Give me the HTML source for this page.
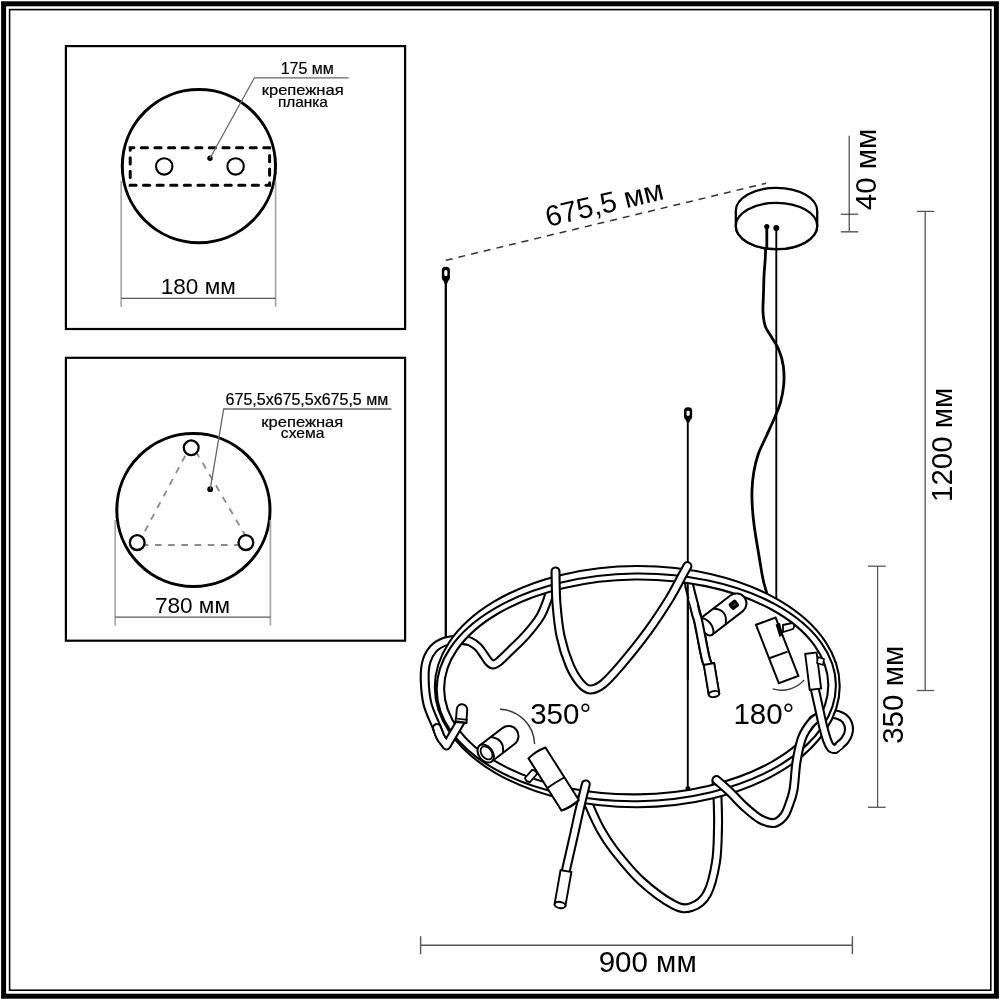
<!DOCTYPE html>
<html><head><meta charset="utf-8">
<style>
html,body{margin:0;padding:0;background:#fff;width:1000px;height:1000px;overflow:hidden}
svg{display:block}
text{font-family:"Liberation Sans",sans-serif;fill:#000}
</style></head><body>
<svg style="will-change:transform" width="1000" height="1000" viewBox="0 0 1000 1000">
<rect x="0" y="0" width="1000" height="1000" fill="#fff"/>
<!-- frame -->
<rect x="3.6" y="3.8" width="992.8" height="992.4" fill="none" stroke="#000" stroke-width="5"/>
<rect x="9.6" y="9.6" width="981.2" height="980.6" fill="none" stroke="#000" stroke-width="1.6"/>
<!-- box 1 -->
<rect x="65.9" y="46.1" width="339.2" height="282.9" fill="none" stroke="#000" stroke-width="2.2"/>
<circle cx="198.9" cy="166.1" r="76.6" fill="none" stroke="#000" stroke-width="3"/>
<rect x="130.2" y="147.8" width="139.4" height="37.4" fill="none" stroke="#000" stroke-width="3" stroke-linecap="round" stroke-dasharray="6.2 7.4" stroke-dashoffset="2.5"/>
<circle cx="164.2" cy="166.4" r="8.2" fill="none" stroke="#000" stroke-width="2.1"/>
<circle cx="235.6" cy="166.4" r="8.2" fill="none" stroke="#000" stroke-width="2.1"/>
<circle cx="210" cy="158.3" r="2.7" fill="#000"/>
<polyline points="210,158.3 254.4,77.8 348.6,77.8" fill="none" stroke="#666" stroke-width="1.3"/>
<text x="307.3" y="74" font-size="16" stroke="#000" stroke-width="0.2" text-anchor="middle">175 мм</text>
<text x="302.7" y="94.6" font-size="14.5" stroke="#000" stroke-width="0.2" text-anchor="middle" textLength="82" lengthAdjust="spacingAndGlyphs">крепежная</text>
<text x="302.9" y="107.2" font-size="14.5" stroke="#000" stroke-width="0.2" text-anchor="middle" textLength="50" lengthAdjust="spacingAndGlyphs">планка</text>
<line x1="121.2" y1="181" x2="121.2" y2="306.8" stroke="#a8a8a8" stroke-width="1.7"/>
<line x1="275.6" y1="181" x2="275.6" y2="306.8" stroke="#a8a8a8" stroke-width="1.7"/>
<line x1="121.2" y1="298.4" x2="275.6" y2="298.4" stroke="#5a5a5a" stroke-width="1.3"/>
<text x="198.2" y="294.2" font-size="22.6" text-anchor="middle">180 мм</text>
<!-- box 2 -->
<rect x="65.9" y="357.8" width="339.2" height="282.9" fill="none" stroke="#000" stroke-width="2.2"/>
<circle cx="193.4" cy="510" r="76.6" fill="none" stroke="#000" stroke-width="3"/>
<path d="M191.5,444 L137.5,545 L251,545 Z" fill="none" stroke="#8a8a8a" stroke-width="1.8" stroke-dasharray="6.6 6.6"/>
<circle cx="191.2" cy="447.8" r="7.4" fill="#fff" stroke="#000" stroke-width="2.3"/>
<circle cx="137.2" cy="542.6" r="7.4" fill="#fff" stroke="#000" stroke-width="2.3"/>
<circle cx="245.9" cy="542.6" r="7.4" fill="#fff" stroke="#000" stroke-width="2.3"/>
<circle cx="210.2" cy="489.2" r="2.9" fill="#000"/>
<polyline points="210.2,489.4 223.7,409 391.5,409" fill="none" stroke="#666" stroke-width="1.3"/>
<text x="306.9" y="404.7" font-size="16" stroke="#000" stroke-width="0.2" text-anchor="middle">675,5x675,5x675,5 мм</text>
<text x="302.3" y="426.5" font-size="14.5" stroke="#000" stroke-width="0.2" text-anchor="middle" textLength="82" lengthAdjust="spacingAndGlyphs">крепежная</text>
<text x="302.6" y="437.8" font-size="14.5" stroke="#000" stroke-width="0.2" text-anchor="middle" textLength="43.5" lengthAdjust="spacingAndGlyphs">схема</text>
<line x1="115.2" y1="520" x2="115.2" y2="625.6" stroke="#a8a8a8" stroke-width="1.7"/>
<line x1="270.4" y1="520" x2="270.4" y2="625.6" stroke="#a8a8a8" stroke-width="1.7"/>
<line x1="115.2" y1="617.2" x2="270.4" y2="617.2" stroke="#5a5a5a" stroke-width="1.3"/>
<text x="192.4" y="613.3" font-size="22.6" text-anchor="middle">780 мм</text>

<!-- dimensions right -->
<line x1="849.2" y1="135.7" x2="849.2" y2="231.8" stroke="#333" stroke-width="1.1"/>
<line x1="840.8" y1="214.2" x2="858.2" y2="214.2" stroke="#333" stroke-width="1.1"/>
<line x1="840.8" y1="231.8" x2="858.2" y2="231.8" stroke="#666" stroke-width="1.6"/>
<text transform="translate(876.2,169.5) rotate(-90)" font-size="29.5" text-anchor="middle">40 мм</text>

<line x1="925.2" y1="211.4" x2="925.2" y2="690.5" stroke="#555" stroke-width="1.3"/>
<line x1="916.8" y1="211.4" x2="934.2" y2="211.4" stroke="#555" stroke-width="1.3"/>
<line x1="916.8" y1="690.5" x2="934.2" y2="690.5" stroke="#555" stroke-width="1.3"/>
<text transform="translate(952,444.8) rotate(-90)" font-size="29.5" text-anchor="middle">1200 мм</text>

<line x1="877.6" y1="566.2" x2="877.6" y2="807.3" stroke="#555" stroke-width="1.3"/>
<line x1="868" y1="566.2" x2="885.7" y2="566.2" stroke="#555" stroke-width="1.3"/>
<line x1="868" y1="807.3" x2="885.7" y2="807.3" stroke="#555" stroke-width="1.3"/>
<text transform="translate(903.2,694.8) rotate(-90)" font-size="29.5" text-anchor="middle">350 мм</text>

<line x1="420.6" y1="945.2" x2="852.4" y2="945.2" stroke="#555" stroke-width="1.4"/>
<line x1="420.6" y1="936.2" x2="420.6" y2="954.2" stroke="#555" stroke-width="1.4"/>
<line x1="852.4" y1="936.2" x2="852.4" y2="954.2" stroke="#555" stroke-width="1.4"/>
<text x="647.7" y="971.5" font-size="29.5" text-anchor="middle">900 мм</text>

<!-- 675,5 -->
<line x1="445.8" y1="260.3" x2="766" y2="183.3" stroke="#333" stroke-width="1.5" stroke-dasharray="7 6"/>
<text transform="translate(606.5,213) rotate(-13.5)" font-size="29" text-anchor="middle">675,5 мм</text>

<!-- angles -->
<text x="560.7" y="724.1" font-size="29.5" text-anchor="middle">350°</text>
<text x="763.9" y="724" font-size="29.5" text-anchor="middle">180°</text>
<path d="M500,709.3 A36,36 0 0 1 534.6,744" fill="none" stroke="#333" stroke-width="1.4"/>
<path d="M772.7,688.9 A30,30 0 0 0 804.2,679.9" fill="none" stroke="#333" stroke-width="1.4"/>

<!-- CHANDELIER -->
<g><line x1="445.8" y1="278" x2="445.8" y2="640" stroke="#000" stroke-width="2.3"/>
<line x1="687.8" y1="418" x2="687.8" y2="792" stroke="#000" stroke-width="1.9"/>
<line x1="776.3" y1="228" x2="776.3" y2="599" stroke="#000" stroke-width="1.9"/>
<path d="M766.8,227.0 C766.6,229.8 766.0,238.8 765.8,244.0 C765.5,249.2 765.6,252.7 765.3,258.0 C765.0,263.3 764.3,270.0 764.0,276.0 C763.7,282.0 763.7,288.0 763.5,294.0 C763.3,300.0 762.7,306.6 763.0,312.0 C763.3,317.4 763.9,322.2 765.3,326.4 C766.7,330.6 769.4,333.3 771.6,337.2 C773.9,341.1 776.8,345.0 778.8,349.8 C780.8,354.6 782.5,360.3 783.3,366.0 C784.1,371.7 784.2,378.0 783.8,384.0 C783.3,390.0 782.1,396.3 780.6,402.0 C779.1,407.7 776.9,412.3 774.5,418.0 C772.1,423.7 769.1,430.0 766.4,436.0 C763.7,442.0 760.4,448.0 758.3,454.0 C756.2,460.0 754.8,466.0 753.8,472.0 C752.8,478.0 752.2,484.0 752.0,490.0 C751.8,496.0 752.0,502.0 752.4,508.0 C752.8,514.0 753.4,520.0 754.2,526.0 C755.0,532.0 756.0,538.0 757.0,544.0 C758.0,550.0 759.0,556.0 760.0,562.0 C761.0,568.0 762.0,574.7 763.2,580.0 C764.4,585.3 766.4,591.7 767.0,594.0" fill="none" stroke="#000" stroke-width="2.8"/>
<rect x="441.80" y="266.8" width="8.1" height="14.4" rx="3.6" fill="#000"/><path d="M443.35,280.70 L448.35,280.70 L447.05,283.70 L444.65,283.70 Z" fill="#000"/><rect x="444.30" y="270.30" width="3.1" height="5.62" rx="0.8" fill="#fff"/>
<rect x="684.05" y="407.2" width="8.1" height="12.8" rx="3.6" fill="#000"/><path d="M685.60,419.50 L690.60,419.50 L689.30,422.50 L686.90,422.50 Z" fill="#000"/><rect x="686.55" y="410.70" width="3.1" height="4.99" rx="0.8" fill="#fff"/>
<path d="M735.8,211 A40.7,23.2 0 0 1 817.2,211 L817.2,226 A40.7,23.2 0 0 1 735.8,226 Z" fill="#fff" stroke="#000" stroke-width="2.3"/>
<ellipse cx="776.5" cy="226" rx="40.7" ry="23.2" fill="#fff" stroke="#000" stroke-width="2.3"/>
<line x1="766.8" y1="226" x2="766.8" y2="250" stroke="#000" stroke-width="2.8"/><line x1="776.3" y1="228" x2="776.3" y2="250" stroke="#000" stroke-width="1.9"/>
<circle cx="766.8" cy="226.5" r="2.6" fill="#000"/><circle cx="776.3" cy="228" r="3" fill="#000"/>
<path d="M456.0,639.5 C457.0,639.6 459.7,639.7 462.0,640.0 C464.3,640.3 467.3,640.3 470.0,641.5 C472.7,642.7 475.7,644.8 478.0,647.0 C480.3,649.2 482.2,652.6 484.0,655.0 C485.8,657.4 487.0,659.9 488.5,661.5 C490.0,663.1 491.2,664.5 493.0,664.5 C494.8,664.5 496.2,663.8 499.0,661.5 C501.8,659.2 505.5,655.4 510.0,651.0 C514.5,646.6 521.0,640.7 526.0,635.0 C531.0,629.3 536.5,622.7 540.0,617.0 C543.5,611.3 545.2,605.8 547.0,601.0 C548.8,596.2 550.3,590.2 551.0,588.0" fill="none" stroke="#000" stroke-width="10.0" stroke-linecap="round" stroke-linejoin="round"/><path d="M456.0,639.5 C457.0,639.6 459.7,639.7 462.0,640.0 C464.3,640.3 467.3,640.3 470.0,641.5 C472.7,642.7 475.7,644.8 478.0,647.0 C480.3,649.2 482.2,652.6 484.0,655.0 C485.8,657.4 487.0,659.9 488.5,661.5 C490.0,663.1 491.2,664.5 493.0,664.5 C494.8,664.5 496.2,663.8 499.0,661.5 C501.8,659.2 505.5,655.4 510.0,651.0 C514.5,646.6 521.0,640.7 526.0,635.0 C531.0,629.3 536.5,622.7 540.0,617.0 C543.5,611.3 545.2,605.8 547.0,601.0 C548.8,596.2 550.3,590.2 551.0,588.0" fill="none" stroke="#fff" stroke-width="5.8" stroke-linecap="round" stroke-linejoin="round"/>
<path d="M688.5,576.0 C688.6,577.7 687.8,578.3 689.4,586.0 C691.0,593.7 695.7,610.0 698.4,622.0 C701.1,634.0 703.8,650.7 705.6,658.0 C707.4,665.3 708.4,664.7 709.0,666.0" fill="none" stroke="#000" stroke-width="10.0" stroke-linecap="round" stroke-linejoin="round"/><path d="M688.5,576.0 C688.6,577.7 687.8,578.3 689.4,586.0 C691.0,593.7 695.7,610.0 698.4,622.0 C701.1,634.0 703.8,650.7 705.6,658.0 C707.4,665.3 708.4,664.7 709.0,666.0" fill="none" stroke="#fff" stroke-width="5.8" stroke-linecap="round" stroke-linejoin="round"/>
<path d="M586.0,795.0 C586.6,796.8 586.9,800.2 589.4,806.0 C591.9,811.8 596.7,822.7 600.8,830.0 C604.9,837.3 607.3,841.5 614.0,850.0 C620.7,858.5 631.0,871.6 641.0,880.8 C651.0,890.0 665.6,900.6 674.0,905.0 C682.4,909.4 686.1,908.8 691.6,907.0 C697.1,905.2 702.9,901.5 707.0,894.0 C711.1,886.5 714.2,873.0 716.0,862.0 C717.8,851.0 717.7,838.3 718.0,828.0 C718.3,817.7 717.8,806.7 717.6,800.0 C717.4,793.3 717.2,791.2 717.0,788.0 C716.8,784.8 716.6,782.2 716.5,781.0" fill="none" stroke="#000" stroke-width="10.0" stroke-linecap="round" stroke-linejoin="round"/><path d="M586.0,795.0 C586.6,796.8 586.9,800.2 589.4,806.0 C591.9,811.8 596.7,822.7 600.8,830.0 C604.9,837.3 607.3,841.5 614.0,850.0 C620.7,858.5 631.0,871.6 641.0,880.8 C651.0,890.0 665.6,900.6 674.0,905.0 C682.4,909.4 686.1,908.8 691.6,907.0 C697.1,905.2 702.9,901.5 707.0,894.0 C711.1,886.5 714.2,873.0 716.0,862.0 C717.8,851.0 717.7,838.3 718.0,828.0 C718.3,817.7 717.8,806.7 717.6,800.0 C717.4,793.3 717.2,791.2 717.0,788.0 C716.8,784.8 716.6,782.2 716.5,781.0" fill="none" stroke="#fff" stroke-width="5.8" stroke-linecap="round" stroke-linejoin="round"/>
<path d="M813.0,720.0 C815.2,719.0 821.8,714.8 826.0,714.0 C830.2,713.2 834.7,714.0 838.0,715.0 C841.3,716.0 844.2,717.5 846.0,720.0 C847.8,722.5 849.2,726.7 849.0,730.0 C848.8,733.3 847.3,736.8 845.0,740.0 C842.7,743.2 836.7,747.5 835.0,749.0" fill="none" stroke="#000" stroke-width="10.0" stroke-linecap="round" stroke-linejoin="round"/><path d="M813.0,720.0 C815.2,719.0 821.8,714.8 826.0,714.0 C830.2,713.2 834.7,714.0 838.0,715.0 C841.3,716.0 844.2,717.5 846.0,720.0 C847.8,722.5 849.2,726.7 849.0,730.0 C848.8,733.3 847.3,736.8 845.0,740.0 C842.7,743.2 836.7,747.5 835.0,749.0" fill="none" stroke="#fff" stroke-width="5.8" stroke-linecap="round" stroke-linejoin="round"/>
<path d="M440.5,737.0 C439.8,735.1 438.2,731.2 436.0,725.7 C433.8,720.2 429.4,711.7 427.5,704.0 C425.6,696.3 424.9,686.6 424.7,679.5 C424.5,672.4 425.0,666.4 426.5,661.3 C428.0,656.2 430.5,652.0 433.5,648.7 C436.5,645.4 440.9,643.2 444.6,641.7 C448.4,640.2 454.1,639.9 456.0,639.5" fill="none" stroke="#000" stroke-width="10.0" stroke-linecap="round" stroke-linejoin="round"/><path d="M440.5,737.0 C439.8,735.1 438.2,731.2 436.0,725.7 C433.8,720.2 429.4,711.7 427.5,704.0 C425.6,696.3 424.9,686.6 424.7,679.5 C424.5,672.4 425.0,666.4 426.5,661.3 C428.0,656.2 430.5,652.0 433.5,648.7 C436.5,645.4 440.9,643.2 444.6,641.7 C448.4,640.2 454.1,639.9 456.0,639.5" fill="none" stroke="#fff" stroke-width="5.8" stroke-linecap="round" stroke-linejoin="round"/>
<g><path d="M839.71,685.98 L839.60,690.19 L839.24,694.39 L838.64,698.59 L837.79,702.77 L836.70,706.93 L835.36,711.07 L833.78,715.18 L831.97,719.25 L829.91,723.28 L827.62,727.27 L825.10,731.21 L822.35,735.09 L819.38,738.92 L816.18,742.68 L812.77,746.37 L809.14,749.99 L805.30,753.53 L801.26,756.99 L797.01,760.37 L792.58,763.65 L787.95,766.84 L783.14,769.94 L778.15,772.93 L772.99,775.82 L767.67,778.59 L762.19,781.26 L756.55,783.81 L750.77,786.24 L744.85,788.55 L738.80,790.74 L732.63,792.80 L726.34,794.73 L719.94,796.53 L713.44,798.19 L706.84,799.72 L700.17,801.11 L693.41,802.36 L686.59,803.47 L679.71,804.44 L672.78,805.26 L665.80,805.94 L658.79,806.48 L651.75,806.86 L644.69,807.11 L637.63,807.20 L630.56,807.15 L623.51,806.95 L616.47,806.60 L609.45,806.11 L602.47,805.47 L595.53,804.69 L588.64,803.76 L581.81,802.69 L575.05,801.48 L568.37,800.13 L561.77,798.64 L555.26,797.02 L548.85,795.26 L542.55,793.36 L536.36,791.34 L530.30,789.19 L524.36,786.91 L518.57,784.52 L512.92,782.00 L507.42,779.37 L502.08,776.62 L496.90,773.76 L491.90,770.80 L487.07,767.74 L482.42,764.57 L477.97,761.31 L473.70,757.96 L469.64,754.53 L465.78,751.01 L462.13,747.41 L458.69,743.74 L455.48,740.00 L452.48,736.19 L449.71,732.32 L447.16,728.40 L444.85,724.42 L442.77,720.40 L440.93,716.34 L439.33,712.25 L437.97,708.12 L436.85,703.96 L435.98,699.79 L435.35,695.59 L434.97,691.39 L434.83,687.18 L434.94,682.97 L435.30,678.77 L435.90,674.57 L436.75,670.39 L437.84,666.23 L439.18,662.09 L440.76,657.98 L442.57,653.91 L444.63,649.88 L446.92,645.89 L449.44,641.95 L452.19,638.07 L455.16,634.24 L458.36,630.48 L461.77,626.79 L465.40,623.17 L469.24,619.63 L473.28,616.17 L477.53,612.79 L481.96,609.51 L486.59,606.32 L491.40,603.22 L496.39,600.23 L501.55,597.34 L506.87,594.57 L512.35,591.90 L517.99,589.35 L523.77,586.92 L529.69,584.61 L535.74,582.42 L541.91,580.36 L548.20,578.43 L554.60,576.63 L561.10,574.97 L567.70,573.44 L574.37,572.05 L581.13,570.80 L587.95,569.69 L594.83,568.72 L601.76,567.90 L608.74,567.22 L615.75,566.68 L622.79,566.30 L629.85,566.05 L636.91,565.96 L643.98,566.01 L651.03,566.21 L658.07,566.56 L665.09,567.05 L672.07,567.69 L679.01,568.47 L685.90,569.40 L692.73,570.47 L699.49,571.68 L706.17,573.03 L712.77,574.52 L719.28,576.14 L725.69,577.90 L731.99,579.80 L738.18,581.82 L744.24,583.97 L750.18,586.25 L755.97,588.64 L761.62,591.16 L767.12,593.79 L772.46,596.54 L777.64,599.40 L782.64,602.36 L787.47,605.42 L792.12,608.59 L796.57,611.85 L800.84,615.20 L804.90,618.63 L808.76,622.15 L812.41,625.75 L815.85,629.42 L819.06,633.16 L822.06,636.97 L824.83,640.84 L827.38,644.76 L829.69,648.74 L831.77,652.76 L833.61,656.82 L835.21,660.91 L836.57,665.04 L837.69,669.20 L838.56,673.37 L839.19,677.57 L839.57,681.77 Z M828.28,684.46 L828.22,688.21 L827.91,691.96 L827.38,695.70 L826.61,699.43 L825.61,703.15 L824.38,706.85 L822.91,710.52 L821.23,714.17 L819.31,717.78 L817.18,721.35 L814.82,724.88 L812.24,728.37 L809.45,731.80 L806.45,735.19 L803.24,738.51 L799.83,741.77 L796.22,744.96 L792.42,748.08 L788.42,751.13 L784.24,754.09 L779.88,756.98 L775.34,759.78 L770.63,762.50 L765.76,765.12 L760.74,767.64 L755.56,770.07 L750.23,772.40 L744.77,774.62 L739.17,776.73 L733.45,778.74 L727.61,780.63 L721.66,782.41 L715.60,784.07 L709.45,785.62 L703.21,787.04 L696.88,788.35 L690.49,789.53 L684.02,790.58 L677.50,791.51 L670.93,792.31 L664.32,792.98 L657.67,793.52 L650.99,793.94 L644.30,794.22 L637.60,794.37 L630.89,794.39 L624.20,794.28 L617.51,794.04 L610.85,793.67 L604.22,793.17 L597.63,792.54 L591.09,791.78 L584.60,790.89 L578.18,789.88 L571.82,788.74 L565.54,787.48 L559.35,786.09 L553.26,784.59 L547.26,782.96 L541.37,781.22 L535.60,779.36 L529.95,777.39 L524.43,775.31 L519.05,773.12 L513.81,770.83 L508.72,768.44 L503.78,765.94 L499.01,763.35 L494.40,760.67 L489.96,757.90 L485.71,755.04 L481.63,752.09 L477.75,749.07 L474.06,745.97 L470.56,742.80 L467.27,739.57 L464.18,736.26 L461.31,732.90 L458.64,729.48 L456.19,726.01 L453.97,722.50 L451.96,718.94 L450.18,715.34 L448.62,711.70 L447.30,708.04 L446.20,704.35 L445.33,700.64 L444.70,696.91 L444.30,693.17 L444.14,689.42 L444.20,685.67 L444.51,681.92 L445.04,678.18 L445.81,674.45 L446.81,670.73 L448.04,667.03 L449.51,663.36 L451.19,659.71 L453.11,656.10 L455.24,652.53 L457.60,649.00 L460.18,645.51 L462.97,642.08 L465.97,638.69 L469.18,635.37 L472.59,632.11 L476.20,628.92 L480.00,625.80 L484.00,622.75 L488.18,619.79 L492.54,616.90 L497.08,614.10 L501.79,611.38 L506.66,608.76 L511.68,606.24 L516.86,603.81 L522.19,601.48 L527.65,599.26 L533.25,597.15 L538.97,595.14 L544.81,593.25 L550.76,591.47 L556.82,589.81 L562.97,588.26 L569.21,586.84 L575.54,585.53 L581.93,584.35 L588.40,583.30 L594.92,582.37 L601.49,581.57 L608.10,580.90 L614.75,580.36 L621.43,579.94 L628.12,579.66 L634.82,579.51 L641.53,579.49 L648.22,579.60 L654.91,579.84 L661.57,580.21 L668.20,580.71 L674.79,581.34 L681.33,582.10 L687.82,582.99 L694.24,584.00 L700.60,585.14 L706.88,586.40 L713.07,587.79 L719.16,589.29 L725.16,590.92 L731.05,592.66 L736.82,594.52 L742.47,596.49 L747.99,598.57 L753.37,600.76 L758.61,603.05 L763.70,605.44 L768.64,607.94 L773.41,610.53 L778.02,613.21 L782.46,615.98 L786.71,618.84 L790.79,621.79 L794.67,624.81 L798.36,627.91 L801.86,631.08 L805.15,634.31 L808.24,637.62 L811.11,640.98 L813.78,644.40 L816.23,647.87 L818.45,651.38 L820.46,654.94 L822.24,658.54 L823.80,662.18 L825.12,665.84 L826.22,669.53 L827.09,673.24 L827.72,676.97 L828.12,680.71 Z" fill="#fff" fill-rule="evenodd"/><ellipse cx="637.27" cy="686.58" rx="202.44" ry="120.62" transform="rotate(-0.17 637.27 686.58)" fill="none" stroke="#000" stroke-width="2.1"/><ellipse cx="636.29" cy="687.37" rx="199.6" ry="113.83" transform="rotate(-0.8 636.29 687.37)" fill="none" stroke="#000" stroke-width="2.1"/><ellipse cx="636.21" cy="686.94" rx="192.09" ry="107.44" transform="rotate(-0.74 636.21 686.94)" fill="none" stroke="#000" stroke-width="2.1"/></g>
<rect x="685.6" y="786.5" width="4.6" height="4" rx="1" fill="#000"/>
<path d="M461.0,721.0 C458.6,725.1 448.9,741.4 446.5,745.5 L446.5,745.5 C445.5,744.1 442.1,739.9 440.5,737.0 C438.9,734.1 437.6,729.5 437.0,728.0" fill="none" stroke="#000" stroke-width="10.0" stroke-linecap="round" stroke-linejoin="round"/><path d="M461.0,721.0 C458.6,725.1 448.9,741.4 446.5,745.5 L446.5,745.5 C445.5,744.1 442.1,739.9 440.5,737.0 C438.9,734.1 437.6,729.5 437.0,728.0" fill="none" stroke="#fff" stroke-width="5.8" stroke-linecap="round" stroke-linejoin="round"/>
<path d="M555.5,571.5 C555.7,576.9 555.6,593.2 556.5,604.0 C557.4,614.8 558.4,626.2 560.6,636.4 C562.8,646.6 566.3,657.4 569.6,665.2 C572.9,673.0 577.0,679.2 580.4,683.2 C583.8,687.2 586.2,689.4 590.0,689.5 C593.8,689.6 597.8,688.1 603.0,684.0 C608.2,679.9 613.5,673.8 621.0,665.0 C628.5,656.2 639.9,642.1 648.0,631.0 C656.1,619.9 663.9,607.8 669.6,598.6 C675.3,589.4 679.0,581.4 682.0,576.0 C685.0,570.6 686.5,567.8 687.4,566.1" fill="none" stroke="#000" stroke-width="10.0" stroke-linecap="round" stroke-linejoin="round"/><path d="M555.5,571.5 C555.7,576.9 555.6,593.2 556.5,604.0 C557.4,614.8 558.4,626.2 560.6,636.4 C562.8,646.6 566.3,657.4 569.6,665.2 C572.9,673.0 577.0,679.2 580.4,683.2 C583.8,687.2 586.2,689.4 590.0,689.5 C593.8,689.6 597.8,688.1 603.0,684.0 C608.2,679.9 613.5,673.8 621.0,665.0 C628.5,656.2 639.9,642.1 648.0,631.0 C656.1,619.9 663.9,607.8 669.6,598.6 C675.3,589.4 679.0,581.4 682.0,576.0 C685.0,570.6 686.5,567.8 687.4,566.1" fill="none" stroke="#fff" stroke-width="5.8" stroke-linecap="round" stroke-linejoin="round"/>
<path d="M585.8,784.4 C584.8,788.3 582.0,799.6 580.0,808.0 C578.0,816.4 576.3,824.7 574.0,835.0 C571.7,845.3 567.3,864.2 566.0,870.0" fill="none" stroke="#000" stroke-width="10.0" stroke-linecap="round" stroke-linejoin="round"/><path d="M585.8,784.4 C584.8,788.3 582.0,799.6 580.0,808.0 C578.0,816.4 576.3,824.7 574.0,835.0 C571.7,845.3 567.3,864.2 566.0,870.0" fill="none" stroke="#fff" stroke-width="5.8" stroke-linecap="round" stroke-linejoin="round"/>
<path d="M716.5,780.0 C718.7,781.9 724.9,787.1 729.6,791.6 C734.3,796.1 739.7,802.4 744.8,807.0 C749.9,811.6 755.1,816.3 760.0,819.0 C764.9,821.7 770.0,823.5 774.0,823.0 C778.0,822.5 781.5,819.0 784.0,816.0 C786.5,813.0 787.4,809.3 789.0,805.0 C790.6,800.7 792.2,797.2 793.5,790.0 C794.8,782.8 795.1,770.7 796.5,762.0 C797.9,753.3 799.6,744.5 802.0,738.0 C804.4,731.5 808.0,726.7 811.0,723.0 C814.0,719.3 818.5,717.2 820.0,716.0" fill="none" stroke="#000" stroke-width="10.0" stroke-linecap="round" stroke-linejoin="round"/><path d="M716.5,780.0 C718.7,781.9 724.9,787.1 729.6,791.6 C734.3,796.1 739.7,802.4 744.8,807.0 C749.9,811.6 755.1,816.3 760.0,819.0 C764.9,821.7 770.0,823.5 774.0,823.0 C778.0,822.5 781.5,819.0 784.0,816.0 C786.5,813.0 787.4,809.3 789.0,805.0 C790.6,800.7 792.2,797.2 793.5,790.0 C794.8,782.8 795.1,770.7 796.5,762.0 C797.9,753.3 799.6,744.5 802.0,738.0 C804.4,731.5 808.0,726.7 811.0,723.0 C814.0,719.3 818.5,717.2 820.0,716.0" fill="none" stroke="#fff" stroke-width="5.8" stroke-linecap="round" stroke-linejoin="round"/>
<path d="M835.0,749.0 C834.3,748.8 832.3,749.5 831.0,748.0 C829.7,746.5 828.3,743.7 827.0,740.0 C825.7,736.3 824.3,731.3 823.0,726.0 C821.7,720.7 820.3,714.0 819.0,708.0 C817.7,702.0 815.7,693.0 815.0,690.0" fill="none" stroke="#000" stroke-width="10.0" stroke-linecap="round" stroke-linejoin="round"/><path d="M835.0,749.0 C834.3,748.8 832.3,749.5 831.0,748.0 C829.7,746.5 828.3,743.7 827.0,740.0 C825.7,736.3 824.3,731.3 823.0,726.0 C821.7,720.7 820.3,714.0 819.0,708.0 C817.7,702.0 815.7,693.0 815.0,690.0" fill="none" stroke="#fff" stroke-width="5.8" stroke-linecap="round" stroke-linejoin="round"/>
<path d="M443.0,741.0 C442.6,740.3 441.4,738.8 440.5,737.0 C439.6,735.2 438.0,731.2 437.5,730.0" fill="none" stroke="#fff" stroke-width="5.8" stroke-linecap="butt"/>
<path d="M841.0,745.0 C840.0,745.7 836.8,748.7 835.0,749.0 C833.2,749.3 830.8,747.3 830.0,747.0" fill="none" stroke="#fff" stroke-width="5.8" stroke-linecap="butt"/>
<g transform="translate(462,709.5) rotate(94.40)"><path d="M0,-5.25 L13.038404810405298,-5.25 L13.038404810405298,5.25 L0,5.25 A5.25,5.25 0 0 1 0,-5.25 Z" fill="#fff" stroke="#000" stroke-width="1.9"/></g>
<path d="M455.8,718.5 L466.8,719.8 L466.5,722.5 L455.5,721.2 Z" fill="#fff" stroke="#000" stroke-width="1.7"/>
<g transform="translate(709,664) rotate(80.54)"><rect x="0" y="-5.25" width="30.4138126514911" height="10.5" fill="#fff" stroke="#000" stroke-width="1.9"/><ellipse cx="30.4138126514911" cy="0" rx="2.9400000000000004" ry="5.25" fill="#fff" stroke="#000" stroke-width="1.9"/></g>
<g transform="translate(566,871) rotate(100.01)"><rect x="0" y="-5.5" width="34.52535300326414" height="11" fill="#fff" stroke="#000" stroke-width="1.9"/><ellipse cx="34.52535300326414" cy="0" rx="3.08" ry="5.5" fill="#fff" stroke="#000" stroke-width="1.9"/></g>
<g transform="translate(810.9,653.2) rotate(82.87)"><rect x="0" y="-5.75" width="36.28015986734347" height="11.5" fill="#fff" stroke="#000" stroke-width="1.9"/></g>
<path d="M818,657 L824,659 L823,665 L817,663 Z" fill="#fff" stroke="#000" stroke-width="1.6"/>
<g transform="translate(706,626.8) rotate(-37.50)"><path d="M0,-10 H38.4 A10,10 0 0 1 38.4,10 H0 Z" fill="#fff" stroke="#000" stroke-width="2.0"/><ellipse cx="0" cy="0" rx="5.5" ry="10" fill="#fff" stroke="#000" stroke-width="2.0"/><path d="M17,-10 Q28,0 17,10" fill="none" stroke="#000" stroke-width="1.9"/><rect x="31" y="-4.5" width="9" height="8" rx="2" fill="#000"/><rect x="34" y="-1.2" width="4" height="2" fill="#333"/></g>
<path d="M694.0,606.0 C694.3,607.3 695.3,611.3 696.0,614.0 C696.7,616.7 696.8,614.7 698.4,622.0 C700.0,629.3 703.8,650.7 705.6,658.0 C707.4,665.3 708.4,664.7 709.0,666.0" fill="none" stroke="#000" stroke-width="10.0" stroke-linecap="butt"/><path d="M691.5,598.0 C691.9,599.3 693.2,603.3 694.0,606.0 C694.8,608.7 695.3,611.3 696.0,614.0 C696.7,616.7 696.8,614.7 698.4,622.0 C700.0,629.3 703.8,650.7 705.6,658.0 C707.4,665.3 708.4,664.7 709.0,666.0" fill="none" stroke="#fff" stroke-width="5.8" stroke-linecap="butt"/>
<g transform="translate(709,664) rotate(80.54)"><rect x="0" y="-5.25" width="30.4138126514911" height="10.5" fill="#fff" stroke="#000" stroke-width="1.9"/><ellipse cx="30.4138126514911" cy="0" rx="2.9400000000000004" ry="5.25" fill="#fff" stroke="#000" stroke-width="1.9"/></g>
<line x1="687.8" y1="584" x2="687.8" y2="680" stroke="#000" stroke-width="1.9"/>
<g transform="translate(485.7,753.5) rotate(-37.51)"><path d="M0,-10 H28.7 A10,10 0 0 1 28.7,10 H0 Z" fill="#fff" stroke="#000" stroke-width="2.0"/><path d="M14,-10 Q24,0 14,10" fill="none" stroke="#000" stroke-width="1.9"/><ellipse cx="0" cy="0" rx="7" ry="10" fill="#fff" stroke="#000" stroke-width="2.0"/><ellipse cx="1" cy="0" rx="5" ry="7.3" fill="none" stroke="#000" stroke-width="1.8"/></g>
<path d="M783,625 L792,623 Q796,625 793,629 L783,632 Z" fill="#fff" stroke="#000" stroke-width="1.8"/>
<path d="M756,624.8 L775.6,617.6 L798.4,676 L778.8,683.2 Z" fill="#fff" stroke="#000" stroke-width="2.0"/>
<line x1="770" y1="658" x2="787.6" y2="651.6" stroke="#000" stroke-width="1.9"/>
<path d="M775.6,624.5 L780,623 L783,635 L779.5,637 Z" fill="#000"/>
<path d="M525,778 L532,770 Q536,770 537,774 L530,782 Q526,782 525,778 Z" fill="#fff" stroke="#000" stroke-width="1.8"/>
<path d="M528.5,758.4 Q536,751 545.4,747.5 L578.8,800 Q571,807 561.5,810.5 Z" fill="#fff" stroke="#000" stroke-width="2.0"/>
<path d="M547.3,788 Q556,782 564.1,777.5" fill="none" stroke="#000" stroke-width="1.9"/>
<path d="M561.5,810.5 Q572,808 578.8,800" fill="none" stroke="#000" stroke-width="1.6"/></g>
</svg>
</body></html>
